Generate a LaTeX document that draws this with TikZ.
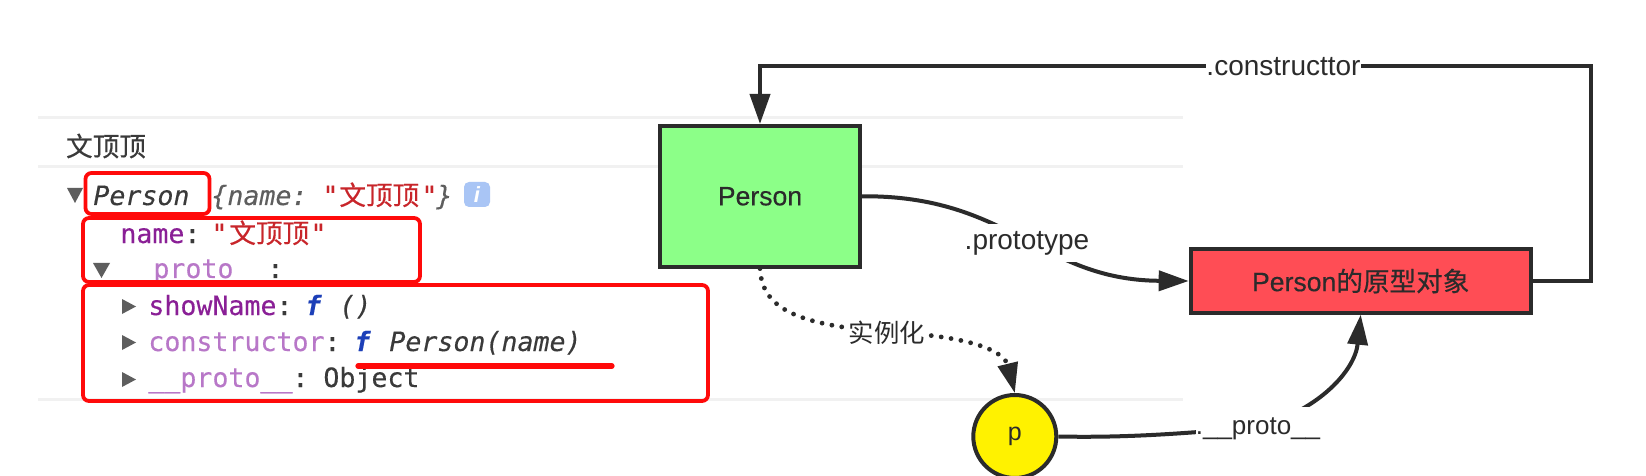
\documentclass[tikz,border=0pt]{standalone}
\usepackage{fontspec}
\setmainfont{Liberation Sans}
\setmonofont[FakeBold=0.25]{DejaVu Sans Mono}
\newfontfamily\boxfont[FakeBold=0.35]{Liberation Sans}
\newfontfamily\cjkfont{Noto Sans CJK SC}
\newfontfamily\cjkheavy[FakeBold=0.4]{Noto Sans CJK SC}
\newfontfamily\cjkslant[AutoFakeSlant=0.2,FakeBold=0.4]{Noto Sans CJK SC}
\usetikzlibrary{arrows.meta}
\definecolor{ink}{HTML}{2B2B2B}
\definecolor{sep}{HTML}{F1F1F1}
\definecolor{redmark}{HTML}{FF0A0A}
\definecolor{boxgreen}{HTML}{8CFF88}
\definecolor{boxred}{HTML}{FF4D55}
\definecolor{purpledark}{HTML}{8A1F96}
\definecolor{purplelight}{HTML}{B877C8}
\definecolor{strred}{HTML}{C8252A}
\definecolor{fblue}{HTML}{1C3FB8}
\definecolor{codegray}{HTML}{3A3A3A}
\definecolor{dimgray}{HTML}{5E5E5E}
\definecolor{infoblue}{HTML}{A9C5F5}
\tikzset{
  x=0.5pt,y=-0.5pt,
  sepline/.style={sep,line width=1.5pt},
  markbox/.style={draw=redmark,line width=1.9pt,rounded corners=3pt},
  markline/.style={redmark,line width=2.6pt,line cap=round},
  code/.style={anchor=base west,inner sep=0pt,font=\fontsize{13.3}{15}\ttfamily},
  twist/.style={fill=dimgray},
  conn/.style={draw=ink,line width=2pt,-{Triangle[length=15pt,width=10pt]}},
  dotconn/.style={draw=ink,line width=2.4pt,line cap=round,dash pattern=on 0pt off 5pt},
  shapebox/.style={draw=ink,line width=2pt,text=ink,inner sep=0pt,font=\fontsize{13.3}{15}\boxfont},
  edgelabel/.style={fill=white,text=ink,inner xsep=0pt,inner ysep=0pt,minimum height=16pt,font=\fontsize{14}{15}\selectfont},
}
\begin{document}
\begin{tikzpicture}
\fill[white] (0,0) rectangle (1646,476);
\useasboundingbox (0,0) rectangle (1646,476);
% console separators
\draw[sepline] (38,118) -- (1183,118);
\draw[sepline] (38,167) -- (1183,167);
\draw[sepline] (38,399) -- (1183,399);
\node[anchor=center,inner sep=0pt,text=codegray,font=\fontsize{13.3}{15}\cjkheavy] (title) at (106,146) {文顶顶};
% console rows
\fill[twist] (67,188) -- (83,188) -- (75,203) -- cycle;
\node[code,text=codegray,font=\fontsize{13.3}{15}\ttfamily\itshape] (r1a) at (93,205) {Person};
\node[code,text=dimgray,font=\fontsize{13.3}{15}\ttfamily\itshape] (r1b) at (211,205) {\{name:};
\node[code,text=strred,font=\fontsize{13.3}{15}\ttfamily\itshape] (r1c) at (322,205) {"};
\node[code,text=strred,font=\fontsize{13.3}{15}\cjkslant] (r1d) at (339,205) {文顶顶};
\node[code,text=strred,font=\fontsize{13.3}{15}\ttfamily\itshape] (r1e) at (421,205) {"};
\node[code,text=dimgray,font=\fontsize{13.3}{15}\ttfamily\itshape] (r1f) at (436,205) {\}};
\node[fill=infoblue,rounded corners=2.5pt,minimum width=13pt,minimum height=12.5pt,inner sep=0pt,text=white,font=\fontsize{11}{12}\selectfont\bfseries\itshape] (info) at (477,194.5) {i};
\node[code,text=purpledark] (r2a) at (120,243) {name};
\node[code,text=codegray] (r2b) at (184,243) {:};
\node[code,text=strred] (r2c) at (211,243) {"};
\node[code,text=strred,font=\fontsize{13.3}{15}\cjkheavy] (r2d) at (229,243) {文顶顶};
\node[code,text=strred] (r2e) at (310,243) {"};
\fill[twist] (93,263) -- (110,263) -- (101.5,278) -- cycle;
\node[code,text=purplelight] (r3a) at (121,278) {\_\_proto\_\_};
\node[code,text=codegray] (r3b) at (267,278) {:};
\fill[twist] (122,299) -- (136,306.5) -- (122,314) -- cycle;
\node[code,text=purpledark] (r4a) at (148,315) {showName};
\node[code,text=codegray] (r4b) at (276,315) {:};
\node[code,text=fblue,font=\fontsize{13.3}{15}\ttfamily\bfseries\itshape] (r4c) at (305,315) {f};
\node[code,text=codegray,font=\fontsize{13.3}{15}\ttfamily\itshape] (r4d) at (339,315) {()};
\fill[twist] (122,335) -- (136,342.5) -- (122,350) -- cycle;
\node[code,text=purplelight] (r5a) at (148,351) {constructor};
\node[code,text=codegray] (r5b) at (324,351) {:};
\node[code,text=fblue,font=\fontsize{13.3}{15}\ttfamily\bfseries\itshape] (r5c) at (354,351) {f};
\node[code,text=codegray,font=\fontsize{13.3}{15}\ttfamily\itshape] (r5d) at (389,351) {Person(name)};
\fill[twist] (122,372) -- (136,379.5) -- (122,387) -- cycle;
\node[code,text=purplelight] (r6a) at (148,387) {\_\_proto\_\_};
\node[code,text=codegray] (r6b) at (292,387) {:};
\node[code,text=codegray] (r6c) at (323,387) {Object};
% red marks
\draw[markbox] (85.5,173) rectangle (209.5,214);
\draw[markbox] (83,218) rectangle (420,282);
\draw[markbox] (83,285) rectangle (708,401);
\draw[markline] (358,366) -- (612,366);
% diagram nodes
\node[shapebox,fill=boxgreen,minimum width=100pt,minimum height=70.3pt] (person) at (760,196.3) {Person};
\node[shapebox,fill=boxred,minimum width=170pt,minimum height=31.7pt] (proto) at (1360.7,281) {Person{\cjkheavy 的原型对象}};
\node[shapebox,circle,fill=yellow,minimum size=41.5pt,font=\fontsize{12.5}{14}\selectfont] (p) at (1014.8,436.5) {p};
% connectors
\coordinate (c1) at (1591,281);
\coordinate (c2) at (1591,65.7);
\coordinate (c3) at (760,65.7);
\draw[conn] (proto.east) -- (c1) -- (c2) -- (c3) -- (person.north);
\draw[conn] (person.east) .. controls (1010,195) and (1040,280) .. (proto.west);
\coordinate (midI) at (887,332);
\coordinate (headI) at (1008,365);
\draw[dotconn] (person.south) .. controls (762,310) and (800,325) .. (midI) .. controls (950,335) and (1000,345) .. (headI);
\draw[conn] (headI) -- (p.north);
\coordinate (midP) at (1258,427);
\draw[conn] (p.east) .. controls (1130,438) and (1190,433) .. (midP) .. controls (1320,410) and (1355,370) .. (proto.south);
% edge labels
\node[edgelabel] (lc) at (1283.5,67) {.constructtor};
\node[edgelabel,minimum height=19pt] (lp) at (1027,243) {.prototype};
\node[edgelabel,font=\fontsize{12.7}{15}\cjkfont] (li) at (887,332.5) {实例化};
\node[edgelabel,minimum height=22pt,font=\fontsize{13}{15}\selectfont] (lu) at (1258,429) {.\_\_proto\_\_};
\end{tikzpicture}
\end{document}
